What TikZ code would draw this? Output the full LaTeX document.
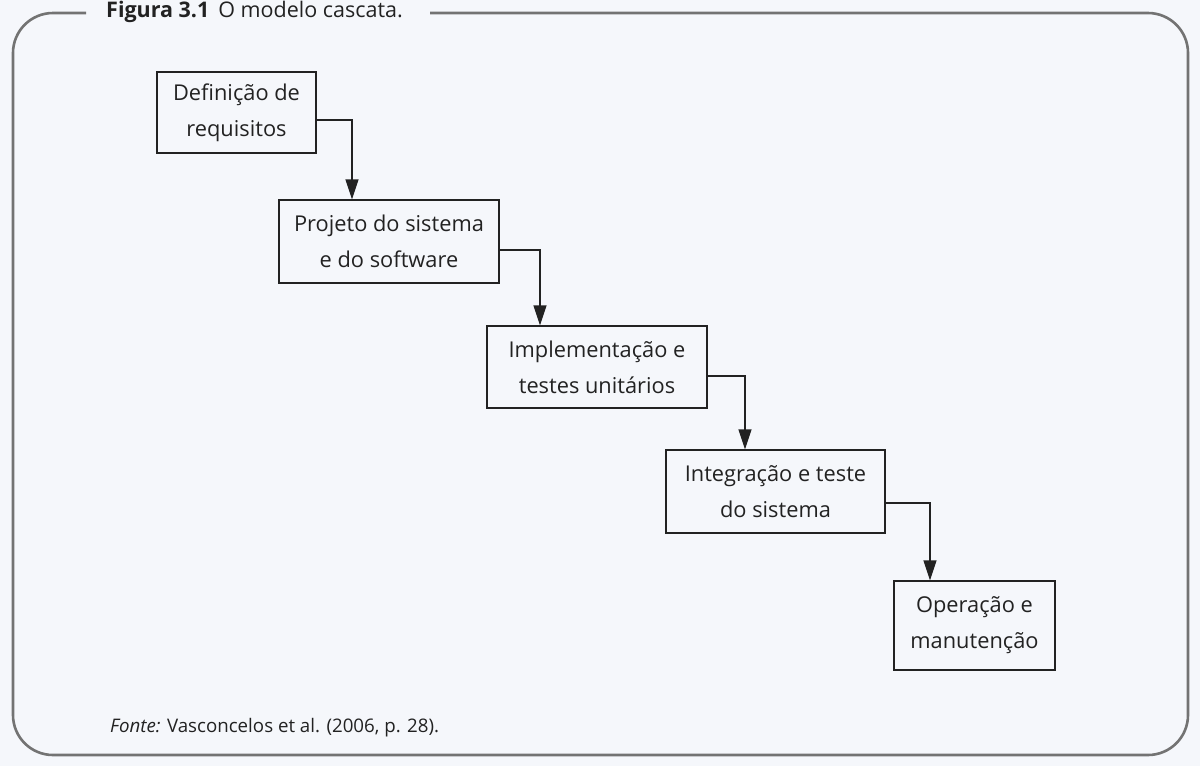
\documentclass[tikz,border=0pt]{standalone}
\usepackage{fontspec}
\setmainfont{Open Sans}
\usetikzlibrary{arrows.meta}
\definecolor{bg}{HTML}{F5F7FB}
\definecolor{frame}{HTML}{737373}
\definecolor{ink}{HTML}{222222}
\begin{document}
\begin{tikzpicture}[x=1pt,y=-1pt,
  stepbox/.style={draw=ink, line width=1.3pt, fill=bg, text=ink, align=center, font=\fontsize{21.8}{36}\selectfont, inner sep=0pt},
  flow/.style={draw=ink, line width=1.3pt, -{Triangle[length=20pt,width=13pt]}}]
\useasboundingbox (0,0) rectangle (1200,766);
\fill[bg] (0,0) rectangle (1200,766);
% frame
\draw[frame, line width=2.6pt, rounded corners=40pt]
  (86,13) -- (13,13) -- (13,755) -- (1188,755) -- (1188,13) -- (430,13);
\node[anchor=west, text=ink, font=\fontsize{21.5}{24}\selectfont, inner sep=0pt] (title) at (106,12)
  {\textbf{Figura 3.1}\hspace{9pt}O modelo cascata.};
% boxes
\node[stepbox, minimum width=159pt, minimum height=81pt] (a) at (236.5,112.5) {Definição de\\requisitos};
\node[stepbox, minimum width=220pt, minimum height=83pt] (b) at (389,241.5) {Projeto do sistema\\e do software};
\node[stepbox, minimum width=220pt, minimum height=82pt] (c) at (597,367) {Implementação e\\testes unitários};
\node[stepbox, minimum width=219pt, minimum height=83pt] (d) at (775.5,491.5) {Integração e teste\\do sistema};
\node[stepbox, minimum width=161pt, minimum height=89pt] (e) at (974.5,625.5) {Operação e\\manutenção};
% arrows
\draw[flow] (a.east |- 0,120) -| (352,0 |- b.north);
\draw[flow] (b.east |- 0,250) -| (540,0 |- c.north);
\draw[flow] (c.east |- 0,376) -| (745,0 |- d.north);
\draw[flow] (d.east |- 0,503) -| (930,0 |- e.north);
% source
\node[anchor=west, text=ink, font=\fontsize{18.7}{22}\selectfont, inner sep=0pt] (src) at (110,728)
  {\textit{Fonte:} Vasconcelos et al. (2006, p. 28).};
\end{tikzpicture}
\end{document}
